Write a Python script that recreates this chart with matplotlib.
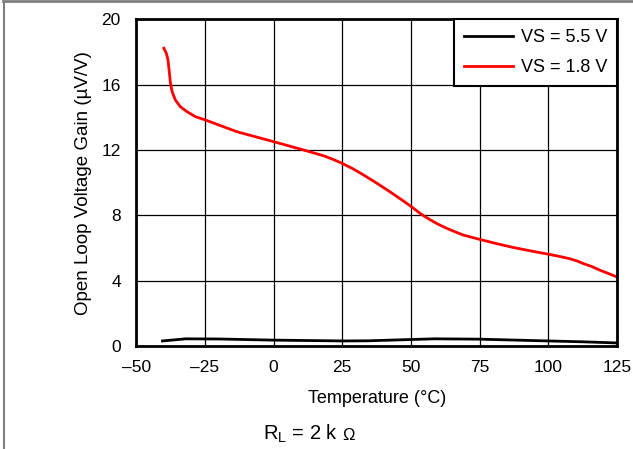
import matplotlib.pyplot as plt
from matplotlib.lines import Line2D

plt.rcParams['font.family'] = ['Liberation Sans', 'DejaVu Sans']

# temperature (°C) and open loop gain readings, VS = 1.8 V
temp_18 = [-39.9, -39.0, -38.4, -38.0, -37.5, -36.9, -35.7, -33.9, -31.5, -28.4, -24.8,
           -13.3, 0.1, 11.0, 18.2, 21.5, 24.9, 28.8, 32.8, 37.5, 42.3, 46.5, 50.2,
           53.5, 56.9, 60.0, 63.0, 66.0, 69.0, 75.1, 81.0, 87.2, 93.5, 99.9, 103.8,
           107.8, 110.3, 112.6, 115.8, 118.7, 121.8, 124.8]
gain_18 = [18.23, 17.92, 17.51, 16.9, 16.09, 15.57, 15.06, 14.65, 14.35, 14.04, 13.84,
           13.12, 12.51, 12.0, 11.65, 11.44, 11.19, 10.86, 10.47, 9.98, 9.45, 8.97, 8.53,
           8.1, 7.74, 7.45, 7.21, 7.0, 6.8, 6.53, 6.28, 6.04, 5.83, 5.63, 5.5,
           5.35, 5.22, 5.06, 4.87, 4.65, 4.45, 4.24]

# VS = 5.5 V
temp_55 = [-40.4, -32.0, -20.0, 0.0, 25.6, 34.4, 58.6, 74.6, 100.0, 112.0, 124.6]
gain_55 = [0.32, 0.45, 0.44, 0.37, 0.32, 0.33, 0.45, 0.43, 0.32, 0.27, 0.2]

xticks = [-50, -25, 0, 25, 50, 75, 100, 125]
xtick_labels = ['–50', '–25', '0', '25', '50', '75', '100', '125']
yticks = [0, 4, 8, 12, 16, 20]

fig = plt.figure(figsize=(6.33, 4.49), dpi=100)
ax = fig.add_axes([0.215, 0.229, 0.76, 0.728])

ax.plot(temp_55, gain_55, color='black', lw=2, label='VS = 5.5 V',
        solid_joinstyle='round')
ax.plot(temp_18, gain_18, color='red', lw=2, label='VS = 1.8 V',
        solid_joinstyle='round')

ax.set_xlim(-50, 125)
ax.set_ylim(0, 20)
ax.set_xticks(xticks)
ax.set_xticklabels(xtick_labels)
ax.set_yticks(yticks)
ax.tick_params(length=0, labelsize=12.5)
ax.tick_params(axis='y', pad=11)
ax.tick_params(axis='x', pad=10)
ax.grid(color='black', lw=0.9)
for s in ax.spines.values():
    s.set_linewidth(2)

ax.set_xlabel('Temperature (°C)', fontsize=13, labelpad=11)
ax.set_ylabel('Open Loop Voltage Gain (µV/V)', fontsize=13.5, labelpad=7)

leg = ax.legend(loc='upper right', fontsize=13, fancybox=False, framealpha=1,
                borderaxespad=0, handlelength=2.7, handletextpad=0.45,
                edgecolor='black', borderpad=0.55, labelspacing=0.7)
leg.get_frame().set_linewidth(1.5)

fig.text(263 / 633, 0.02, r'R$_\mathregular{L}$ = 2 k', fontsize=14.5,
         ha='left', va='baseline')
fig.text(342 / 633, 0.02, 'Ω', fontsize=12, va='baseline')

# partial page border
fig.add_artist(Line2D([0.005, 1], [0.998, 0.998], color='gray', lw=2))
fig.add_artist(Line2D([0.006, 0.006], [0, 0.998], color='gray', lw=1.5))

fig.savefig('out.png', dpi=100)
